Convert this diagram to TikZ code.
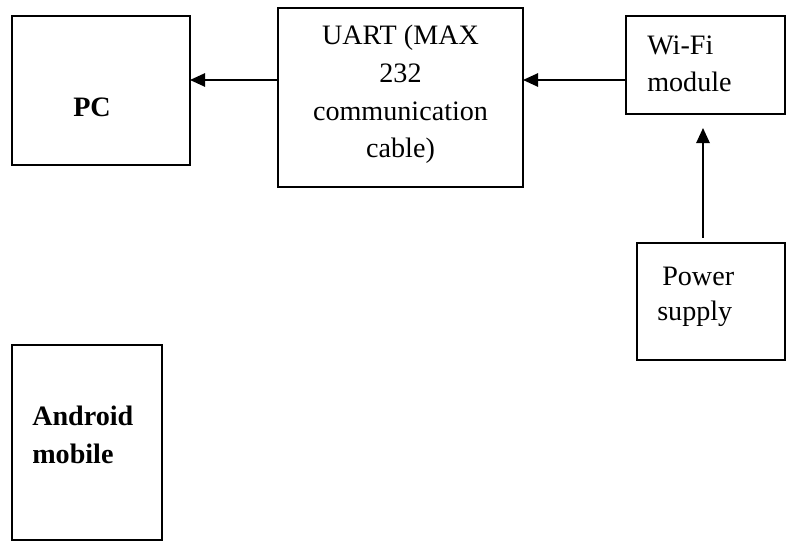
\documentclass[tikz,border=0pt]{standalone}
\usepackage{fontspec}
\setmainfont{Liberation Serif}
\usetikzlibrary{arrows.meta}

\begin{document}
\begin{tikzpicture}[x=0.025cm, y=-0.025cm]
	\tikzstyle{box} = [rectangle, draw, line width=1pt, inner sep=0pt, outer sep=0pt, align=center, font=\fontsize{20pt}{27pt}\selectfont]
	\tikzstyle{txt} = [inner sep=0pt, align=left, anchor=base west, font=\fontsize{20pt}{27pt}\selectfont]
	\tikzstyle{txtb} = [txt, font=\fontsize{20pt}{27pt}\selectfont\bfseries]
	\tikzstyle{arr} = [-{Triangle[length=3.8mm, width=3.4mm]}, line width=1pt]

	\useasboundingbox (0,0) rectangle (786,556);

	\node [box, minimum width=4.45cm, minimum height=3.725cm] (PC) at (101,90.5) {};
	\node [box, minimum width=6.125cm, minimum height=4.475cm] (UART) at (400.5,97.5) {};
	\node [box, minimum width=3.975cm, minimum height=2.45cm] (WiFi) at (705.5,65) {};
	\node [box, minimum width=3.7cm, minimum height=2.925cm] (Power) at (711,301.5) {};
	\node [box, minimum width=3.75cm, minimum height=4.875cm] (Android) at (87,442.5) {};

	% texts (multi-line nodes sit on their last baseline)
	\node [txtb] (PCt) at (73,117) {PC};
	\node [txt, align=center, anchor=base] (UARTt) at (400.5,158) {UART (MAX \\ 232 \\ communication \\ cable)};
	\node [txt] (WiFit) at (647,92) {Wi-Fi \\ module};
	\node [txt] (Powert) at (662,285) {Power};
	\node [txt] (Supplyt) at (657,320) {supply};
	\node [txtb] (Androidt) at (32,463) {Android \\ mobile};

	\draw [arr] (UART.west |- 0,80) to (PC.east |- 0,80);
	\draw [arr] (WiFi.west |- 0,80) to (UART.east |- 0,80);
	\draw [arr, shorten <=0.125cm, shorten >=0.35cm] (Power.north -| 703,0) to (WiFi.south -| 703,0);
\end{tikzpicture}
\end{document}
